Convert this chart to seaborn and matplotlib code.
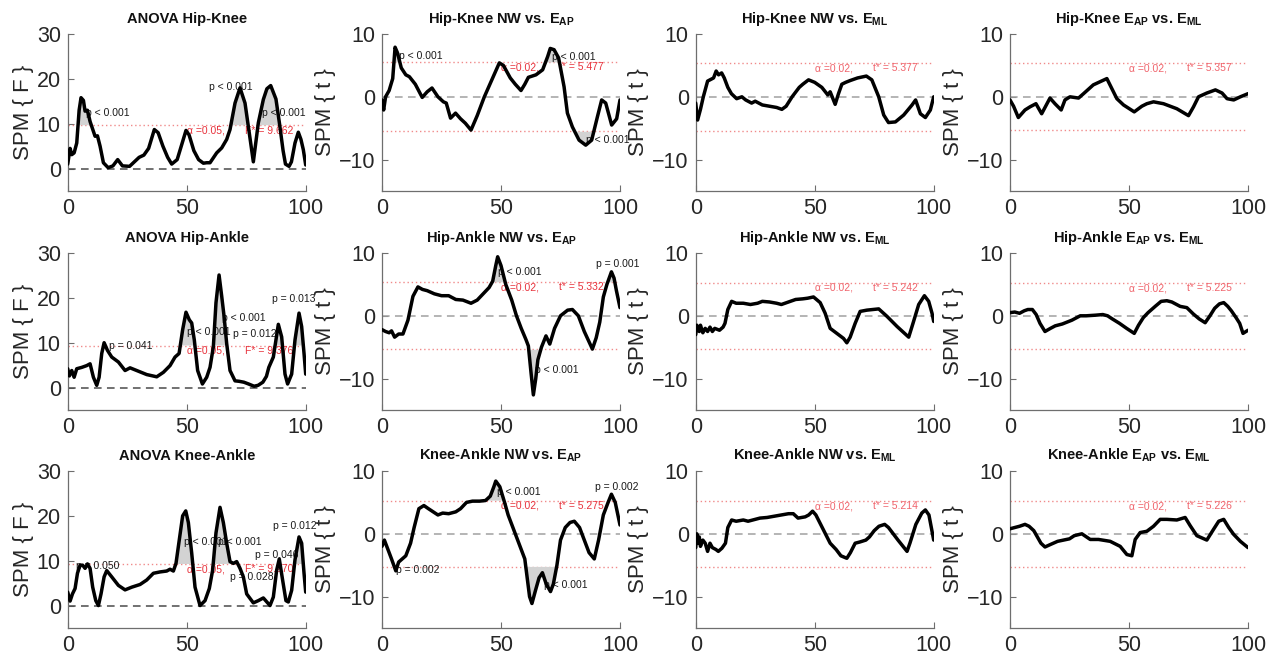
import numpy as np
import matplotlib
matplotlib.use("Agg")
import matplotlib.pyplot as plt
import seaborn as sns

# ---------------- data (x = % of cycle, value = SPM statistic) ----------------
hk_anova = [(0,1),(1,4.5),(1.7,3.1),(2.7,3.5),(3.8,5.7),(4.8,13),(5.6,15.8),(6.6,15.2),(7.3,12.8),(8.3,13),(9.4,10.5),
            (10.1,9.4),(11.5,7.2),(12.5,7.3),(13.6,5),(15,1.3),(17,0.2),(19,0.6),(21,2),(23,0.6),(26,0.5),(28,1.5),
            (30,2.5),(32,3),(34,4.5),(36.4,8.7),(38,8),(40,5),(42,2.5),(43.7,1),(46,2),(48,5.5),(49.7,8.5),(51,7.5),
            (53,4),(55,2),(57,1.2),(58.4,1.3),(59.8,1.3),(62.6,3.5),(64.7,4.6),(66.8,6.5),(68.2,8.7),(70.3,14.6),
            (72.4,18),(74.5,14.6),(76.3,7.9),(78,1.5),(80.1,10.2),(82.2,15.4),(83.7,17.8),(85.3,18.5),(87.5,15.5),
            (89,10),(90.5,4),(91.5,1),(93,0.5),(94,1.5),(95.5,5.7),(96.9,8.1),(98,6.5),(99,4.2),(100,0.8)]
hk_ap = [(0,-0.5),(0.7,-2.1),(1.5,0),(3,1),(4.5,2.9),(5.5,7.9),(6.5,7),(8.1,4.6),(10,3.5),(11.5,3.2),(14,2),
         (16.9,-0.1),(19,0.8),(21,1.4),(23.5,0),(25.8,-0.8),(27,-1),(28.8,-3.4),(30.9,-2.6),(33,-3.5),(35,-4.2),
         (37.4,-5.3),(40,-3),(43,0),(46.5,3),(49.3,5.4),(51,5),(53.9,3),(56,2),(58.4,1),(60,2),(61.5,3.1),
         (64.7,3.5),(67.5,4.3),(69.6,6.4),(70.7,7.7),(72.3,7.5),(74.2,6.2),(76.5,1.6),(77.9,-2.6),(80,-4.8),
         (82.8,-6.9),(85.6,-7.7),(88.1,-6.9),(90.5,-3.2),(92.3,-0.5),(94,-1),(96.5,-4.5),(98.6,-3.5),(100,-0.5)]
hk_ml = [(0,-1),(0.8,-3.7),(2,-2),(3.2,0),(5,2.5),(6.5,2.8),(7.5,3),(8.6,4.1),(9.6,3.5),(10.9,3.8),(12,3),
         (13.5,1.5),(15,0.5),(17.2,-0.3),(19.4,0),(21,-0.5),(23.5,-1),(25,-0.7),(28,-1.3),(31,-1.5),(34,-1.7),
         (36.2,-2),(38,-1.5),(40.5,0),(43.5,1.5),(45,2),(47.4,2.7),(50,2.3),(53,1.5),(55.5,0.3),(56.5,0.8),
         (58.6,-1.2),(60,0.5),(61.4,2),(63,2.3),(65,2.6),(68,3),(71.7,3.3),(74,2.7),(76.9,0),(79,-2.9),(81,-4.1),
         (83.9,-4),(87.4,-2.9),(90.9,-1.3),(92.4,-0.5),(94.4,-2.7),(96.5,-3.3),(98.6,-2.1),(100,0)]
hk_apml = [(0,-0.5),(1.5,-1.5),(3.5,-3.3),(6.3,-2.1),(8.4,-1.6),(10.9,-1.1),(13.3,-2.7),(16.8,-0.2),(18.9,-1.1),
           (21.5,-2.1),(23.1,-0.5),(25.2,0),(28.8,-0.2),(30.9,0.5),(35,1.9),(40.7,2.9),(42.8,1.3),(44.9,-0.3),
           (47.7,-1.3),(52.2,-2.4),(55.4,-1.5),(57.5,-1.1),(60.3,-0.8),(64.5,-1.1),(70.1,-1.9),(75,-3),(77.1,-1.6),
           (79.2,0),(82.7,0.6),(86.3,1.1),(89.1,0.6),(91.2,-0.3),(94,-0.5),(96.8,0),(100,0.5)]

ha_anova = [(0,4.2),(0.7,2.6),(1.7,3.8),(2.7,2.3),(3.8,4.2),(5.9,4.5),(8,4.9),(9.4,5.3),(10.8,2.3),(12.2,0.5),
            (13.2,2.3),(14.3,7.6),(15.3,10),(16.7,8.3),(18.5,6.8),(21.3,5.7),(24.1,3.8),(26.2,4.4),(29,3.8),
            (33.2,2.9),(37.4,2.4),(40.2,3.4),(43,4.9),(45.1,6.8),(46.8,7.6),(48.3,12.9),(49.7,16.8),(51.1,15.1),
            (52.1,14.4),(53.2,10.6),(54.6,3.8),(56.6,0.8),(58.4,2.3),(59.8,4.5),(61.2,9.1),(62.3,18.9),(63.6,25.1),
            (64.7,20.4),(65.7,15.9),(66.8,9.8),(68.2,3.8),(70.3,1.5),(72,1.4),(74,1.2),(76,0.8),(78.3,0.3),(80,0.5),
            (82,1.2),(83.5,2.5),(84.5,4.5),(86.4,6.8),(88.5,14.1),(89.9,11.3),(91.3,3),(92.4,0.8),(94.1,3),
            (95.5,10.6),(97.2,16.6),(98.3,13.6),(99.3,7.6),(100,3)]
ha_ap = [(0,-2.2),(1.5,-2.5),(3,-2.7),(4,-2.4),(5.3,-3.4),(7,-2.9),(8.8,-2.9),(10.9,-0.7),(13,3.1),(15.1,4.6),
         (17,4.2),(19,4),(22,3.5),(25,3.2),(28,3.2),(31,2.6),(34,2.5),(37.4,2),(40,2.5),(42.5,3.5),(45,4.5),
         (46.5,5.5),(47.8,8),(48.6,9.4),(50,8),(52,5),(54.5,2.5),(56.5,0),(58.5,-2),(60.5,-3.8),(61.5,-4.8),
         (62.6,-9),(63.6,-12.6),(64.6,-10),(65.5,-7),(67,-5),(68.9,-3.2),(70.5,-4.5),(72.5,-2),(75,0),(78,0.9),
         (80,1),(82.5,0),(85,-2.5),(88.4,-5.3),(90,-3.5),(91.5,-1),(93,3),(94.5,5),(96.4,7),(97.5,6),(98.5,4),
         (100,1.3)]
ha_ml = [(0,-3),(0.5,-1.5),(1.5,-2.5),(2,-1.5),(3,-2.7),(4,-2),(5,-2.5),(6,-1.8),(7,-2.5),(8,-2),(10,-2.3),
         (11.5,-1.8),(12.3,-1.2),(13.5,1),(15.1,2.3),(17,2),(20,2),(23,1.8),(26,2),(28,2.3),(31,2.2),(34,2),
         (36,1.8),(39,2.2),(42,2.6),(45,2.7),(47,2.8),(49.5,3),(52.3,2.1),(54.4,0.4),(56.5,-2),(59.3,-2.8),
         (62.1,-3.6),(63.5,-4.3),(64.9,-3.4),(67,-1.2),(69.1,0.7),(71.9,0.9),(76.9,1.1),(80.4,-0.1),(84.6,-1.7),
         (89.5,-3.4),(91.3,-1.2),(93.7,1.8),(96.1,3.2),(97.9,2.3),(99.3,0.4),(100,-0.9)]
ha_apml = [(0,0.5),(2,0.6),(4,0.4),(6,0.8),(7.5,1),(9.4,1),(11,0.2),(12.6,-1.2),(14.7,-2.5),(17,-2),(19,-1.6),
           (22,-1.3),(24,-1),(26,-0.7),(29.5,0),(32,0),(36,0.1),(39,0.2),(41,0),(43,-0.5),(46,-1.2),(49,-2),
           (52.2,-2.8),(54,-1.5),(56,-0.3),(58,0.5),(61,1.5),(63.5,2.3),(65.9,2.4),(68,2.2),(71.5,1.5),(74.3,1.3),
           (77,0.3),(79.5,-0.5),(82,-1.1),(84,0),(86,1.2),(88,1.9),(89.8,2.1),(91.5,1.5),(93,0.8),(95,-0.3),
           (96.5,-1.2),(97.9,-2.8),(100,-2.3)]

ka_anova = [(0,3),(1,1),(2,2.6),(3.1,3.8),(4.1,7.2),(5.2,9),(6.3,9),(7.3,8.3),(8.3,9.3),(9.4,8.3),(10.5,4.1),
            (11.8,1.1),(12.9,0),(14,2.6),(15.3,6.4),(16.4,7.8),(18.5,6.4),(21.3,4.5),(24.1,3.5),(26.9,4.1),
            (30.4,4.7),(33.2,5.7),(36,7.2),(38.8,7.5),(41.6,7.7),(43,8.1),(44.4,7.7),(45.5,9.4),(46.9,14.7),
            (48.3,20),(49.6,21.1),(50.7,18.5),(52.1,11.7),(53.5,4.1),(55.6,0),(57.7,1.1),(59.5,3.8),(60.9,7.9),
            (62.3,16.2),(64,21.9),(65.4,18.5),(66.8,13.9),(68.2,9.8),(69.6,9.4),(71,9.8),(72.4,8.3),(73.8,6.4),
            (75.2,2.6),(78,0.6),(80.1,1.1),(82.2,1.7),(85,0),(86.4,1.9),(87.8,7.9),(88.9,10.4),(90.3,5.7),
            (91.7,1.1),(92.7,0.8),(94.1,3.4),(95.5,10.2),(97.2,15.3),(98.3,13.9),(99.3,7.2),(100,3)]
ka_ap = [(0,-2),(1,-1),(2.5,-2.5),(4,-4),(5.8,-5.9),(7,-4.5),(8.5,-4),(10,-3.5),(12,-1.5),(13.5,1),(15.5,4),
         (17.6,4.5),(19.5,4),(21.5,3.5),(23.5,3),(25.5,3.3),(28,3.2),(31,3.5),(33,4),(35.5,5),(38,5.2),(41,5.2),
         (43.5,5.3),(45.5,6),(47,7.5),(47.8,8.4),(49.5,7.5),(51.5,5),(53,3),(55,1),(57,-1),(58.5,-2.5),(60,-4),
         (61,-7),(62,-10),(63,-11.1),(64.5,-9),(66,-7),(67.4,-6.2),(69,-8),(70.8,-9.2),(72,-8),(73.5,-5),(75,-1),
         (77,1),(79,1.8),(80.8,2),(83,1),(85,-1),(87,-3),(89.2,-4),(91,-1),(93,3),(95,5),(96.4,6.3),(98,5),
         (100,1.4)]
ka_ml = [(0,-2.2),(0.5,0),(1,-1.5),(1.5,-0.5),(2,-2),(3,-1),(4,-1.5),(5,-2.8),(6,-1.5),(7,-2.2),(8.5,-2.5),
         (9.5,-2.8),(11,-2.3),(12.5,-1.5),(13.5,1),(15.1,2.2),(17,2),(20,2.2),(22,2),(24,2.2),(27,2.5),(30,2.6),
         (33,2.8),(36,3),(39,3.2),(41,3.2),(43,2.5),(46,2.7),(47.5,3),(49.1,3.6),(50.5,3),(52.5,1.5),(54.5,0),
         (56.5,-1.5),(59,-2.5),(61,-3.5),(63.5,-3.9),(65,-3),(67,-1.5),(69,-1.3),(71.5,-1),(73,-0.5),(75,0.5),
         (77,1.2),(79.4,1.5),(81,1),(83,0),(85,-1),(88.8,-2.8),(90,-1.5),(92.5,1.5),(95,3.3),(96.5,3.8),(98,3),
         (99,1),(100,-1)]
ka_apml = [(0,0.8),(2,1),(4,1.2),(6.3,1.5),(8,1.2),(10,0.5),(11.5,-0.5),(13,-1.5),(14.7,-2.1),(17,-1.7),
           (20,-1.2),(22.5,-1),(25,-0.8),(27,-0.3),(30.2,0),(33.7,-0.9),(37.2,-0.9),(42.1,-1.2),(46.3,-2),
           (49.1,-3.3),(51.2,-3.5),(52.6,-0.9),(54.7,0.2),(57.5,0.4),(60.3,1.2),(63.1,2.3),(65.9,2.3),(70.1,2.2),
           (73.6,2.6),(75.7,1.3),(78.5,-0.3),(82.7,-1),(85.5,0.7),(87.7,2),(89.8,2.3),(91.9,1),(94,-0.1),
           (96.8,-1.2),(100,-2.2)]

titles = ["ANOVA Hip-Knee", r"Hip-Knee NW vs. $\mathbf{E_{AP}}$", r"Hip-Knee NW vs. $\mathbf{E_{ML}}$",
          r"Hip-Knee $\mathbf{E_{AP}}$ vs. $\mathbf{E_{ML}}$",
          "ANOVA Hip-Ankle", r"Hip-Ankle NW vs. $\mathbf{E_{AP}}$", r"Hip-Ankle NW vs. $\mathbf{E_{ML}}$",
          r"Hip-Ankle $\mathbf{E_{AP}}$ vs. $\mathbf{E_{ML}}$",
          "ANOVA Knee-Ankle", r"Knee-Ankle NW vs. $\mathbf{E_{AP}}$", r"Knee-Ankle NW vs. $\mathbf{E_{ML}}$",
          r"Knee-Ankle $\mathbf{E_{AP}}$ vs. $\mathbf{E_{ML}}$"]
curves = [hk_anova, hk_ap, hk_ml, hk_apml, ha_anova, ha_ap, ha_ml, ha_apml, ka_anova, ka_ap, ka_ml, ka_apml]
kinds = ["F", "t", "t", "t"] * 3
thresholds = [9.662, 5.477, 5.377, 5.357, 9.376, 5.332, 5.242, 5.225, 9.270, 5.275, 5.214, 5.226]
alphas = ["0.05", "0.02", "0.02", "0.02"] * 3
p_labels = [
    [(7.5, 12.4, "p < 0.001"), (59.4, 18.2, "p < 0.001"), (81.5, 12.4, "p < 0.001")],
    [(7.0, 6.5, "p < 0.001"), (71.6, 6.4, "p < 0.001"), (85.6, -6.9, "p < 0.001")],
    [], [],
    [(17.5, 9.2, "p = 0.041"), (50.0, 12.3, "p < 0.001"), (64.7, 15.6, "p < 0.001"),
     (69.6, 11.9, "p = 0.012"), (85.7, 19.7, "p = 0.013")],
    [(48.9, 6.9, "p < 0.001"), (64.4, -8.6, "p < 0.001"), (90.0, 8.3, "p = 0.001")],
    [], [],
    [(3.5, 8.8, "p = 0.050"), (49.0, 14.1, "p < 0.001"), (63.3, 14.1, "p < 0.001"),
     (68.2, 6.3, "p = 0.028"), (78.7, 11.3, "p = 0.046"), (86.4, 17.7, "p = 0.012")],
    [(48.2, 6.6, "p < 0.001"), (5.8, -5.7, "p = 0.002"), (68.0, -8.1, "p < 0.001"), (89.6, 7.4, "p = 0.002")],
    [], [],
]

# ---------------- style ----------------
sns.set_style("ticks")
plt.rcParams["font.family"] = ["Liberation Sans", "DejaVu Sans"]
plt.rcParams["mathtext.fontset"] = "custom"
plt.rcParams["mathtext.rm"] = "Liberation Sans"
plt.rcParams["mathtext.bf"] = "Liberation Sans:bold"
plt.rcParams["mathtext.it"] = "Liberation Sans:italic"

W, H = 1266, 660
fig = plt.figure(figsize=(W / 100, H / 100), dpi=100)
col_left = [67.7, 382, 695.7, 1010]
row_bottom = [191, 410, 628]
ax_w, ax_h = 238, 157

spine_c = "#6e6e6e"
tick_c = "#262626"

for i in range(12):
    r, c = divmod(i, 4)
    ax = fig.add_axes([col_left[c] / W, 1 - row_bottom[r] / H, ax_w / W, ax_h / H])
    pts = np.array(curves[i], dtype=float)
    xs, ys = pts[:, 0], pts[:, 1]
    thr = thresholds[i]
    kind = kinds[i]

    # supra-threshold clusters
    ax.fill_between(xs, ys, thr, where=ys >= thr, interpolate=True, color="#d3d3d3", lw=0, zorder=2)
    if kind == "t":
        ax.fill_between(xs, ys, -thr, where=ys <= -thr, interpolate=True, color="#d3d3d3", lw=0, zorder=2)

    # reference lines
    ax.axhline(0, color="#4a4a4a" if kind == "F" else "#a0a0a0", ls=(0, (5, 3.5)), lw=1.1, zorder=1)
    ax.axhline(thr, color="#f08a8a", ls=(0, (1, 2)), lw=1.0, zorder=1)
    if kind == "t":
        ax.axhline(-thr, color="#f08a8a", ls=(0, (1, 2)), lw=1.0, zorder=1)

    sns.lineplot(x=xs, y=ys, ax=ax, color="black", linewidth=2.5, estimator=None, sort=False, zorder=4)

    # threshold text
    red = "#e8323c" if (kind == "F" or c == 1) else "#f0646c"
    ty = thr - 1.2 if kind == "F" else thr - 0.8
    ax.text(50, ty, "\u03b1 =" + alphas[i] + ",", color=red, fontsize=7.5, va="center", ha="left", zorder=3)
    ax.text(74.5, ty, ("F* = " if kind == "F" else "t* = ") + f"{thr:.3f}", color=red, fontsize=7.5,
            va="center", ha="left", zorder=3)

    for (px, py, txt) in p_labels[i]:
        ax.text(px, py, txt, color="#1a1a1a", fontsize=7.5, va="center", ha="left", zorder=3, clip_on=False)

    ax.set_xlim(0, 100)
    ax.set_xticks([0, 50, 100])
    if kind == "F":
        ax.set_ylim(-5, 30)
        ax.set_yticks([0, 10, 20, 30])
        ax.set_ylabel("SPM { F }", fontsize=16, color=tick_c, labelpad=2)
    else:
        ax.set_ylim(-15, 10)
        ax.set_yticks([-10, 0, 10])
        ax.set_ylabel("SPM { t }", fontsize=16, color=tick_c, labelpad=2)
    ax.set_title(titles[i], fontsize=10.5, fontweight="bold", pad=8, color="#111111")

    for s in ["top", "right"]:
        ax.spines[s].set_visible(False)
    for s in ["left", "bottom"]:
        ax.spines[s].set_color(spine_c)
        ax.spines[s].set_linewidth(0.9)
    ax.tick_params(direction="in", length=4, width=0.8, color=spine_c, labelsize=15.5,
                   labelcolor=tick_c, pad=5)
    ax.set_xlabel("")

fig.savefig("out.png", dpi=100)
